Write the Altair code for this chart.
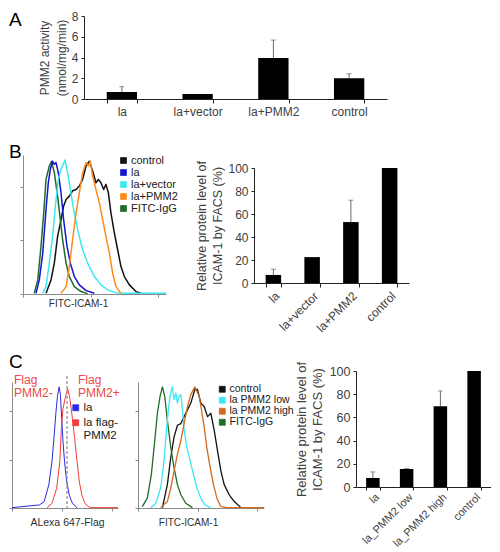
import math
import altair as alt
import pandas as pd

FONT = "Liberation Sans"

# ---------------- data ----------------
# Panel A: PMM2 activity (nmol/mg/min)
a_cats = ["la", "la+vector", "la+PMM2", "control"]
a_vals = [0.67, 0.49, 3.94, 2.0]
a_err = [0.52, 0.0, 1.74, 0.43]

# Panel B bars: relative ICAM-1 (%)
b_cats = ["la", "la+vector", "la+PMM2", "control"]
b_vals = [7.0, 22.5, 53.0, 100.0]
b_err = [5.0, 0.0, 19.0, 0.0]

# Panel C bars
c_cats = ["la", "la_PMM2 low", "la_PMM2 high", "control"]
c_vals = [7.8, 15.5, 69.6, 100.0]
c_err = [5.2, 0.5, 13.2, 0.0]

# Panel B histograms (x: log fluorescence, % of axis; y: % of max count)
b_order = ["control", "la", "la+vector", "la+PMM2", "FITC-IgG"]
b_colors = ["#111111", "#1414d2", "#3ee8f2", "#ff8a1c", "#1f6b2a"]
b_ctrl_x = [16.1, 19.6, 21.9, 24.2, 26.6, 28.4, 30.1, 32.4, 34.7, 37.1, 39.4, 41.7, 44.1, 46.4, 48.7, 51.0, 52.7, 54.5, 56.4, 58.0, 59.7, 61.5, 63.9, 66.2, 68.5, 70.9, 74.4, 79.0, 82.5]
b_ctrl_y = [0.5, 10.5, 23, 43, 55.5, 65.5, 70.5, 73, 77, 78, 80.5, 85.5, 95.5, 99, 91.8, 83, 85.5, 83, 78, 81.8, 75.5, 60.5, 45.5, 33, 20.5, 13, 6.8, 1.8, 0.5]
b_igg_x = [7.9, 10.3, 12.6, 14.5, 16.1, 18.4, 20.0, 21.9, 24.2, 26.1, 27.7, 30.1, 32.4, 35.9, 40.6, 45.2]
b_igg_y = [0.5, 10.5, 35.5, 60.5, 85.5, 95.5, 99, 90.5, 73, 55.5, 40.5, 23, 13, 5.5, 1.8, 0.3]
b_la_x = [9.1, 11.4, 13.8, 16.1, 17.7, 19.1, 20.7, 21.9, 23.1, 24.7, 26.6, 28.4, 30.8, 33.1, 35.9, 39.4, 44.1, 49.9]
b_la_y = [0.5, 10.5, 30.5, 63, 83, 93, 99, 96.8, 98, 90.5, 75.5, 55.5, 35.5, 23, 13, 6.8, 2.5, 0.5]
b_vec_x = [13.8, 16.1, 18.4, 20.7, 23.1, 24.7, 26.6, 29.4, 31.2, 33.1, 35.4, 38.2, 41.7, 45.2, 49.9, 54.5, 59.2, 65.0, 70.9, 100.0]
b_vec_y = [0.5, 5.5, 23, 43, 70.5, 85.5, 93, 100, 90.5, 78, 63, 48, 33, 23, 13, 6.8, 3, 1, 0.5, 0.5]
b_pmm_x = [26.6, 30.1, 32.4, 34.7, 37.1, 39.4, 41.7, 44.1, 45.7, 47.1, 48.7, 51.0, 53.4, 55.7, 58.0, 60.4, 62.7, 65.0, 68.5]
b_pmm_y = [0.5, 5.5, 20.5, 40.5, 60.5, 75.5, 90.5, 98, 95.5, 99, 88, 78, 68, 55.5, 43, 30.5, 15.5, 5.5, 0.5]

# Panel C left histogram (anti-Flag)
c1_order = ["la", "la flag-|PMM2"]
c1_colors = ["#2a2ae6", "#f23c3c"]
c1_la_x = [0.0, 25.8, 30.3, 34.7, 37.7, 39.8, 41.5, 43.0, 44.5, 45.7, 46.9, 48.1, 49.6, 51.6, 54.0, 57.0, 61.4]
c1_la_y = [0.3, 2.5, 5.2, 19, 38.2, 60.2, 79.4, 93.1, 100, 93.1, 73.9, 54.7, 38.2, 21.7, 10.7, 3.8, 0.3]
c1_flag_x = [33.2, 37.7, 42.1, 45.1, 46.6, 48.1, 50.1, 52.5, 54.6, 57.0, 59.1, 61.4, 63.5, 65.9, 68.8, 73.3, 100.0]
c1_flag_y = [0.3, 3.8, 16.2, 38.2, 65.7, 82.1, 90.4, 98.6, 90.4, 73.9, 57.4, 38.2, 21.7, 10.7, 3.8, 0.3, 0.3]
c1_gate = [51.9]

# Panel C middle histogram (ICAM-1)
c2_order = ["control", "la PMM2 low", "la PMM2 high", "FITC-IgG"]
c2_colors = ["#111111", "#3ee8f2", "#d06a1e", "#1f6b2a"]
c2_ctrl_x = [19.4, 23.3, 26.0, 28.6, 31.3, 34.0, 36.6, 39.3, 41.9, 45.1, 47.2, 49.9, 52.5, 55.2, 57.8, 60.5, 63.1, 65.8, 68.4, 72.4, 76.4, 81.7]
c2_ctrl_y = [0.3, 19.3, 41.7, 58.5, 68.3, 69.7, 75.4, 81, 86.6, 97.8, 97.8, 86.6, 83.8, 75.4, 78.2, 64.1, 47.3, 30.5, 19.3, 10.9, 5.3, 0.3]
c2_igg_x = [3.4, 7.4, 10.6, 13.3, 15.4, 17.5, 19.4, 21.2, 23.3, 26.0, 28.6, 31.3, 34.0, 37.9, 43.2]
c2_igg_y = [1.1, 8.1, 27.7, 55.7, 78.2, 92.2, 100, 92.2, 72.5, 50.1, 33.3, 19.3, 10.9, 3.9, 0.3]
c2_low_x = [10.1, 14.1, 18.0, 20.7, 22.8, 24.7, 26.0, 27.3, 28.6, 30.0, 31.3, 32.6, 34.0, 35.3, 36.6, 38.7, 41.4, 44.0, 46.7, 49.9, 53.1, 57.8]
c2_low_y = [0.3, 3.9, 16.5, 38.9, 66.9, 86.6, 95, 100, 89.4, 95, 86.6, 92.2, 93.6, 81, 64.1, 50.1, 38.9, 27.7, 16.5, 8.1, 2.5, 0.3]
c2_high_x = [18.0, 23.3, 26.0, 28.6, 31.3, 34.0, 36.6, 39.3, 41.9, 45.1, 46.7, 48.5, 50.4, 52.5, 54.6, 57.3, 59.9, 62.6, 65.8, 71.1, 100.0]
c2_high_y = [0.3, 5.3, 16.5, 30.5, 44.5, 55.7, 69.7, 83.8, 93.6, 100, 96.4, 92.2, 81, 66.9, 50.1, 33.3, 19.3, 8.1, 1.1, 0.3, 0.3]

# ---------------- helpers ----------------
LOG_TICKS = sorted({round(25 * d + 25 * math.log10(k), 2) for d in range(4) for k in range(1, 10)} | {100.0})
ONE = pd.DataFrame({"v": [0]})


def series_df(pairs):
    rows = []
    for name, xs, ys in pairs:
        for i, (x, y) in enumerate(zip(xs, ys)):
            rows.append({"series": name, "x": x, "y": y, "i": i})
    return pd.DataFrame(rows)


def bound_pt(x, y):
    return alt.Chart(ONE).mark_point(size=1, opacity=0, strokeWidth=0).encode(x=alt.value(x), y=alt.value(y))


def spacer(w, h=1, *extra):
    return alt.layer(bound_pt(0, 0), *extra).properties(width=w, height=h)


def text_at(t, x, y, size=19, color="#000", lh=None):
    kw = dict(text=t, fontSize=size, font=FONT, align="left", baseline="alphabetic", color=color)
    if lh:
        kw.update(lineBreak="\n", lineHeight=lh)
    return alt.Chart(ONE).mark_text(**kw).encode(x=alt.value(x), y=alt.value(y))


def yscale_of(dom, rng):
    kw = dict(domain=dom, nice=False, zero=True)
    if rng:
        kw["range"] = rng
    return alt.Scale(**kw)


def bar_panel(cats, vals, errs, w, h, ymax, yvals, yrange, angle, title, lab_fs, tick_fs, title_fs,
              title_lh, title_pad, xlab_pad=3, xtick=4):
    df = pd.DataFrame({"cat": cats, "val": vals, "err": errs})
    df["top"] = df["val"] + df["err"]
    yscale = yscale_of([0, ymax], yrange)
    xaxis = alt.Axis(title=None, labelAngle=angle, tickBand="extent", tickSize=xtick, labelPadding=xlab_pad,
                     labelFontSize=tick_fs, labelColor="#404040", domainColor="#222", tickColor="#222",
                     labelAlign="right" if angle else "center", labelBaseline="top", labelOverlap=False)
    yaxis = alt.Axis(values=yvals, title=title, tickSize=3, labelPadding=3, labelFontSize=lab_fs,
                     labelColor="#404040", titleFontSize=title_fs, titleLineHeight=title_lh,
                     titlePadding=title_pad, titleColor="#404040", titleFontWeight="normal",
                     domainColor="#222", tickColor="#222", labelOverlap=False)
    xs = alt.Scale(paddingInner=0.6, paddingOuter=0.3)
    rules = alt.Chart(df).transform_filter("datum.err > 0").mark_rule(color="#6a6a6a", strokeWidth=1).encode(
        x=alt.X("cat:N", sort=cats, scale=xs, axis=xaxis),
        y=alt.Y("val:Q", scale=yscale, axis=yaxis),
        y2="top:Q")
    caps = alt.Chart(df).transform_filter("datum.err > 0").mark_tick(color="#6a6a6a", size=5, thickness=1).encode(
        x=alt.X("cat:N", sort=cats, axis=xaxis), y=alt.Y("top:Q", axis=yaxis))
    bars = alt.Chart(df).mark_bar(color="#000000").encode(
        x=alt.X("cat:N", sort=cats, axis=xaxis), y=alt.Y("val:Q", axis=yaxis))
    return alt.layer(rules, bars, caps).properties(width=w, height=h)


def hist_panel(df, order, colors, w, h, ydom, yrange, sw, title, title_fs, title_x, title_pad,
               lx, ly, leg_fs, leg_rowpad, label_expr=None):
    leg = dict(orient="none", legendX=lx, legendY=ly, title=None, symbolType="square", symbolSize=36,
               symbolStrokeColor="#333333", symbolStrokeWidth=0.7, labelFontSize=leg_fs,
               rowPadding=leg_rowpad, labelOffset=2, padding=0, labelColor="#202020", labelFont=FONT)
    if label_expr:
        leg["labelExpr"] = label_expr
    cscale = alt.Scale(domain=order, range=colors)
    xenc = alt.X("x:Q", scale=alt.Scale(domain=[0, 100], nice=False, zero=False),
                 axis=alt.Axis(values=LOG_TICKS, labels=False, tickSize=3, title=title,
                               titleFontSize=title_fs, titleFontWeight="normal", titleColor="#303030",
                               titleX=title_x, titlePadding=title_pad, domainColor="#8a8a8a",
                               tickColor="#8a8a8a"))
    yenc = alt.Y("y:Q", scale=yscale_of(ydom, yrange),
                 axis=alt.Axis(values=[0, 20, 40, 60, 80, 100], labels=False, tickSize=3, title=None,
                               domainColor="#8a8a8a", tickColor="#8a8a8a"))
    keys = alt.Chart(df).transform_filter("false").mark_square(size=36, filled=True, opacity=1).encode(
        x=xenc, y=yenc, color=alt.Color("series:N", scale=cscale, legend=alt.Legend(**leg)))
    lines = alt.Chart(df).mark_line(strokeWidth=sw, strokeJoin="round").encode(
        x=alt.X("x:Q"), y=alt.Y("y:Q"),
        color=alt.Color("series:N", scale=cscale, legend=None),
        order="i:Q",
    )
    return alt.layer(keys, lines).properties(width=w, height=h)


# ---------------- panels ----------------
chartA = alt.layer(
    bar_panel(a_cats, a_vals, a_err, 303, 83, 8, [0, 2, 4, 6, 8], None, 0,
              ["PMM2 activity", "(nmol/mg/min)"], 12, 12, 12, 17, 3),
    bound_pt(0, -7),
    bound_pt(0, 123),
)

barB = bar_panel(b_cats, b_vals, b_err, 155, 128, 100, [0, 20, 40, 60, 80, 100], [128, 13], -45,
                 ["Relative protein level of", "ICAM-1 by FACS (%)"], 12, 12, 12.5, 16, 3)

histB_df = series_df([
    ("control", b_ctrl_x, b_ctrl_y),
    ("FITC-IgG", b_igg_x, b_igg_y),
    ("la", b_la_x, b_la_y),
    ("la+vector", b_vec_x, b_vec_y),
    ("la+PMM2", b_pmm_x, b_pmm_y),
])
histB = alt.layer(
    hist_panel(histB_df, b_order, b_colors, 143, 139, [0, 103.7], None, 1.5,
               "FITC-ICAM-1", 10, 55, 1, 95, 0, 11, 0),
    bound_pt(0, -14),
    bound_pt(0, 191),
)

histC1_df = series_df([
    ("la", c1_la_x, c1_la_y),
    ("la flag-|PMM2", c1_flag_x, c1_flag_y),
])
gate_df = pd.DataFrame({"g": c1_gate})
histC1 = alt.layer(
    hist_panel(histC1_df, c1_order, c1_colors, 106, 137, [0, 104], [137, 11], 1.0,
               "ALexa 647-Flag", 10.5, 55, 6, 58, 31, 11.5, 2, "split(datum.label, '|')"),
    alt.Chart(gate_df).mark_rule(color="#8c8c8c", strokeDash=[3, 2], strokeWidth=1.2).encode(
        x=alt.X("g:Q"), y=alt.value(5), y2=alt.value(137)),
    text_at("Flag\nPMM2-", 2, 13, size=12, color="#e84a4a", lh=13),
    text_at("Flag\nPMM2+", 66, 13, size=12, color="#e84a4a", lh=13),
    text_at("C", -3, -3),
    bound_pt(0, -23),
)

histC2_df = series_df([
    ("control", c2_ctrl_x, c2_ctrl_y),
    ("FITC-IgG", c2_igg_x, c2_igg_y),
    ("la PMM2 low", c2_low_x, c2_low_y),
    ("la PMM2 high", c2_high_x, c2_high_y),
])
histC2 = hist_panel(histC2_df, c2_order, c2_colors, 126, 137, [0, 104], [137, 11], 1.3,
                    "FITC-ICAM-1", 10, 50, 6, 79, 13, 10.5, 0)

barC = bar_panel(c_cats, c_vals, c_err, 135, 116, 100, [0, 20, 40, 60, 80, 100], None, -45,
                 ["Relative protein level of", "ICAM-1 by FACS (%)"], 12.5, 11, 13, 16, 5,
                 xlab_pad=1, xtick=3)

rowA = alt.hconcat(spacer(72, 1, text_at("A", -3, 10)), chartA, spacing=0, bounds="flush")
rowB = alt.hconcat(spacer(11, 1, text_at("B", -3, 3)), histB, spacer(88), barB,
                   spacing=0, bounds="flush").resolve_scale(color="independent")
rowC = alt.hconcat(histC1, spacer(20), histC2, spacer(92), barC,
                   spacing=0, bounds="flush").resolve_scale(color="independent")

chart = alt.vconcat(rowA, rowB, rowC, spacing=0).resolve_scale(color="independent").properties(
    padding=0
).configure(font=FONT).configure_view(stroke=None).configure_axis(
    grid=False, labelFont=FONT, titleFont=FONT, labelOverlap=False
)

chart.save("out.html", embed_options={"renderer": "svg", "actions": False})
